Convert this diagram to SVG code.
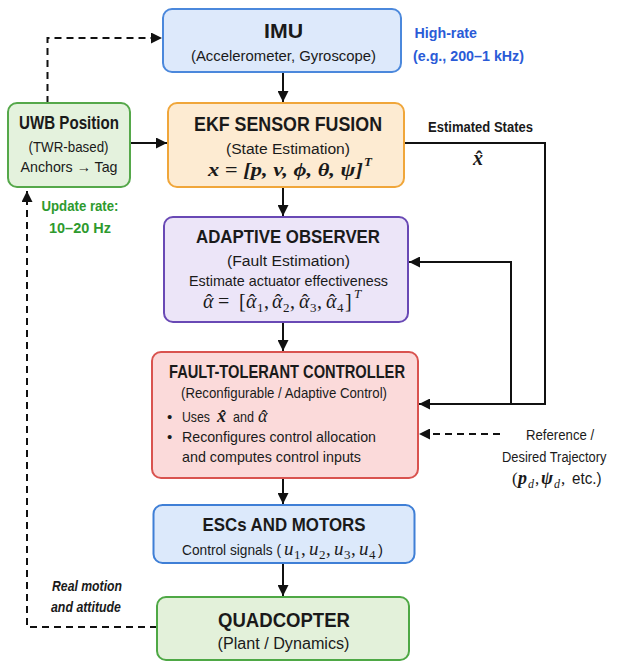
<svg xmlns="http://www.w3.org/2000/svg" width="621" height="664" viewBox="0 0 621 664">
<defs>
<marker id="ah" markerUnits="userSpaceOnUse" markerWidth="11" markerHeight="11" refX="11" refY="5.5" orient="auto"><path d="M0,0 L11,5.5 L0,11 z" fill="#111"/></marker>
<style>
.box{stroke-width:2}
.t{font-family:"Liberation Sans",Arial,sans-serif;fill:#1a1a1a}
.b{font-weight:bold}
.m{font-family:"Liberation Serif","DejaVu Serif",serif;font-style:italic;fill:#1a1a1a}
.u{font-family:"Liberation Serif","DejaVu Serif",serif;fill:#1a1a1a}
.hat{font-family:"Liberation Serif","DejaVu Serif",serif;fill:#1a1a1a;text-anchor:middle}
.ln{fill:none;stroke:#111;stroke-width:2}
.ds{fill:none;stroke:#111;stroke-width:2;stroke-dasharray:7,5}
</style>
</defs>
<rect width="621" height="664" fill="#ffffff"/>

<g id="connectors">
<path class="ln" d="M283,72 V102" marker-end="url(#ah)"/>
<path class="ln" d="M130,143 H167" marker-end="url(#ah)"/>
<path class="ds" d="M47.5,103 V38 H162" marker-end="url(#ah)"/>
<path class="ln" d="M283,187 V216" marker-end="url(#ah)"/>
<path class="ln" d="M283,322 V351" marker-end="url(#ah)"/>
<path class="ln" d="M283,478 V504" marker-end="url(#ah)"/>
<path class="ln" d="M283,563 V596" marker-end="url(#ah)"/>
<path class="ln" d="M404,143 H545 V404 H419" marker-end="url(#ah)"/>
<path class="ln" d="M511,404 V262 H409" marker-end="url(#ah)"/>
<path class="ds" d="M500,434 H419" marker-end="url(#ah)"/>
<path class="ds" d="M157,627 H27 V191" marker-end="url(#ah)"/>
<text class="t b" x="428" y="132" font-size="14.5" textLength="105" lengthAdjust="spacingAndGlyphs">Estimated States</text>
<text class="m" x="473" y="165" font-size="20" font-weight="bold">x</text>
<text class="hat" x="479" y="166" font-size="20" font-weight="bold">ˆ</text>
<text class="t b" x="41.5" y="211" font-size="14.5" style="fill:#2e9a2e" textLength="77" lengthAdjust="spacingAndGlyphs">Update rate:</text>
<text class="t b" x="49" y="233" font-size="14.5" style="fill:#2e9a2e" textLength="62" lengthAdjust="spacingAndGlyphs">10–20 Hz</text>
<text class="t b" x="52" y="591" font-size="14" font-style="italic" textLength="70" lengthAdjust="spacingAndGlyphs">Real motion</text>
<text class="t b" x="51" y="612" font-size="14" font-style="italic" textLength="70" lengthAdjust="spacingAndGlyphs">and attitude</text>
<text class="t" x="0" y="0" font-size="15" transform="translate(526,440) scale(0.88,1)">Reference /</text>
<text class="t" x="0" y="0" font-size="15" transform="translate(502,462) scale(0.86,1)">Desired Trajectory</text>
<text class="u" x="512" y="484" font-size="17">(</text>
<text class="m" x="518" y="484" font-size="18" font-weight="bold">p</text>
<text class="m" x="528" y="488" font-size="12">d</text>
<text class="u" x="535" y="484" font-size="17">,</text>
<text class="m" x="541" y="484" font-size="18" font-weight="bold">ψ</text>
<text class="m" x="554" y="488" font-size="12">d</text>
<text class="u" x="561" y="484" font-size="17">,</text>
<text class="t" x="0" y="0" font-size="16" transform="translate(572,484) scale(0.95,1)">etc.)</text>
<text class="t b" x="414.5" y="38" font-size="14.5" style="fill:#2a5bd7" textLength="62.5" lengthAdjust="spacingAndGlyphs">High-rate</text>
<text class="t b" x="413" y="61" font-size="14.5" style="fill:#2a5bd7" textLength="111" lengthAdjust="spacingAndGlyphs">(e.g., 200–1 kHz)</text>
</g>

<g id="imu">
<rect class="box" x="163" y="9" width="238" height="63" rx="9" fill="#dde9fb" stroke="#4b88dc"/>
<text class="t b" x="264" y="38" font-size="21" textLength="39" lengthAdjust="spacingAndGlyphs">IMU</text>
<text class="t" x="191" y="61" font-size="15.5" textLength="185" lengthAdjust="spacingAndGlyphs">(Accelerometer, Gyroscope)</text>
</g>

<g id="uwb">
<rect class="box" x="8" y="103" width="122" height="84" rx="9" fill="#e4f2dd" stroke="#55a84a"/>
<text class="t b" x="19" y="129" font-size="19" textLength="100" lengthAdjust="spacingAndGlyphs">UWB Position</text>
<text class="t" x="28.5" y="152" font-size="15" textLength="80" lengthAdjust="spacingAndGlyphs">(TWR-based)</text>
<text class="t" x="20.5" y="172" font-size="15" textLength="97" lengthAdjust="spacingAndGlyphs">Anchors → Tag</text>
</g>

<g id="ekf">
<rect class="box" x="168" y="103" width="236" height="84" rx="9" fill="#fdebd2" stroke="#f0a63a"/>
<text class="t b" x="194" y="131" font-size="20" textLength="188" lengthAdjust="spacingAndGlyphs">EKF SENSOR FUSION</text>
<text class="t" x="226" y="154" font-size="15.5" textLength="124" lengthAdjust="spacingAndGlyphs">(State Estimation)</text>
<text class="m" x="208" y="176" font-size="19" font-weight="bold" textLength="155" lengthAdjust="spacingAndGlyphs">x = [p, v, ϕ, θ, ψ]</text>
<text class="m" x="364" y="166" font-size="13" font-weight="bold">T</text>
</g>

<g id="observer">
<rect class="box" x="164" y="217" width="244" height="105" rx="9" fill="#ece5f8" stroke="#6949b5"/>
<text class="t b" x="196" y="243" font-size="19" textLength="184" lengthAdjust="spacingAndGlyphs">ADAPTIVE OBSERVER</text>
<text class="t" x="227" y="266" font-size="15.5" textLength="123" lengthAdjust="spacingAndGlyphs">(Fault Estimation)</text>
<text class="t" x="189" y="286" font-size="15" textLength="199" lengthAdjust="spacingAndGlyphs">Estimate actuator effectiveness</text>
<text class="m" x="203" y="308" font-size="20">α</text>
<text class="hat" x="209" y="309" font-size="20">ˆ</text>
<text class="u" x="218" y="308" font-size="20">=</text>
<text class="u" x="239" y="308" font-size="20">[</text>
<text class="m" x="246" y="308" font-size="20">α</text>
<text class="hat" x="252" y="309" font-size="20">ˆ</text>
<text class="u" x="257" y="312" font-size="13">1</text>
<text class="u" x="264" y="308" font-size="20">,</text>
<text class="m" x="272" y="308" font-size="20">α</text>
<text class="hat" x="278" y="309" font-size="20">ˆ</text>
<text class="u" x="283" y="312" font-size="13">2</text>
<text class="u" x="290" y="308" font-size="20">,</text>
<text class="m" x="299" y="308" font-size="20">α</text>
<text class="hat" x="305" y="309" font-size="20">ˆ</text>
<text class="u" x="310" y="312" font-size="13">3</text>
<text class="u" x="317" y="308" font-size="20">,</text>
<text class="m" x="326" y="308" font-size="20">α</text>
<text class="hat" x="332" y="309" font-size="20">ˆ</text>
<text class="u" x="337" y="312" font-size="13">4</text>
<text class="u" x="345" y="308" font-size="20">]</text>
<text class="m" x="354" y="298" font-size="13">T</text>
</g>

<g id="controller">
<rect class="box" x="152" y="352" width="266" height="126" rx="9" fill="#fbdada" stroke="#d9534f"/>
<text class="t b" x="169" y="378" font-size="19" textLength="236" lengthAdjust="spacingAndGlyphs">FAULT-TOLERANT CONTROLLER</text>
<text class="t" x="181" y="398" font-size="14.5" textLength="206" lengthAdjust="spacingAndGlyphs">(Reconfigurable / Adaptive Control)</text>
<text class="t" x="167" y="422" font-size="15">•</text>
<text class="t" x="182" y="422" font-size="15" textLength="28" lengthAdjust="spacingAndGlyphs">Uses</text>
<text class="m" x="217" y="422" font-size="18" font-weight="bold">x</text>
<text class="hat" x="223" y="423" font-size="18" font-weight="bold">ˆ</text>
<text class="t" x="233" y="422" font-size="15" textLength="21" lengthAdjust="spacingAndGlyphs">and</text>
<text class="m" x="258" y="422" font-size="18">α</text>
<text class="hat" x="264" y="423" font-size="18">ˆ</text>
<text class="t" x="167" y="442" font-size="15">•</text>
<text class="t" x="182" y="442" font-size="15" textLength="194" lengthAdjust="spacingAndGlyphs">Reconfigures control allocation</text>
<text class="t" x="182" y="462" font-size="15" textLength="179" lengthAdjust="spacingAndGlyphs">and computes control inputs</text>
</g>

<g id="escs">
<rect class="box" x="153.5" y="505" width="261" height="58" rx="9" fill="#dce9fb" stroke="#3f7fd6"/>
<text class="t b" x="202.5" y="531" font-size="19" textLength="163" lengthAdjust="spacingAndGlyphs">ESCs AND MOTORS</text>
<text class="t" x="182" y="555" font-size="15" textLength="99" lengthAdjust="spacingAndGlyphs">Control signals (</text>
<text class="m" x="284" y="555" font-size="19">u</text>
<text class="u" x="294" y="559" font-size="13">1</text>
<text class="u" x="301" y="555" font-size="19">,</text>
<text class="m" x="309" y="555" font-size="19">u</text>
<text class="u" x="319" y="559" font-size="13">2</text>
<text class="u" x="326" y="555" font-size="19">,</text>
<text class="m" x="334" y="555" font-size="19">u</text>
<text class="u" x="344" y="559" font-size="13">3</text>
<text class="u" x="351" y="555" font-size="19">,</text>
<text class="m" x="359" y="555" font-size="19">u</text>
<text class="u" x="369" y="559" font-size="13">4</text>
<text class="t" x="378" y="555" font-size="15">)</text>
</g>

<g id="quadcopter">
<rect class="box" x="157" y="597" width="252" height="63" rx="9" fill="#e3f1da" stroke="#4ea845"/>
<text class="t b" x="218" y="627" font-size="20" textLength="132" lengthAdjust="spacingAndGlyphs">QUADCOPTER</text>
<text class="t" x="217.5" y="649" font-size="16" textLength="132" lengthAdjust="spacingAndGlyphs">(Plant / Dynamics)</text>
</g>
</svg>
